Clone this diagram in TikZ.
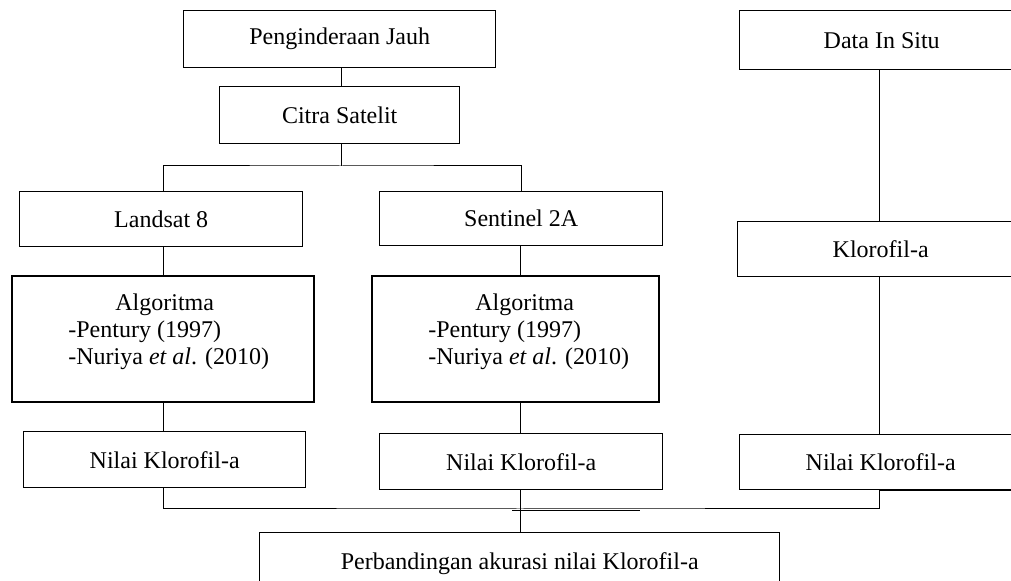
\documentclass[tikz,border=0pt]{standalone}
\usepackage{fontspec}
\setmainfont{Liberation Serif}
\begin{document}
\begin{tikzpicture}[x=0.5pt,y=-0.5pt,
  box/.style={draw, line width=0.7pt, inner sep=0pt, anchor=north west, font=\fontsize{12}{13.5}\selectfont},
  algbox/.style={draw, line width=1pt, inner sep=0pt, anchor=north west},
  algtext/.style={inner sep=0pt, anchor=north west, align=left, font=\fontsize{12}{13.5}\selectfont},
  conn/.style={line width=0.5pt}]
\clip (0,0) rectangle (1011,581);
% left column / top
\node[box, minimum width=156pt, minimum height=28.5pt] (pj) at (183,10) {Penginderaan Jauh};
\node[box, minimum width=120pt, minimum height=28.5pt] (cs) at (219,86) {Citra Satelit};
\node[box, minimum width=141.5pt, minimum height=27.5pt] (ls) at (19,191) {Landsat 8};
\node[box, minimum width=141.5pt, minimum height=27pt] (s2) at (379,191) {Sentinel 2A};
\node[algbox, minimum width=151pt, minimum height=63pt] (a1) at (11,275) {};
\node[algbox, minimum width=143.5pt, minimum height=63pt] (a2) at (371,275) {};
\node[algtext] (a1t) at (68,293) {\hspace*{23.5pt}Algoritma\\-Pentury (1997)\\-Nuriya \textit{et al}. (2010)};
\node[algtext] (a2t) at (428,293) {\hspace*{23.5pt}Algoritma\\-Pentury (1997)\\-Nuriya \textit{et al}. (2010)};
\node[box, minimum width=141pt, minimum height=28pt] (n1) at (23,431) {Nilai Klorofil-a};
\node[box, minimum width=141.5pt, minimum height=28pt] (n2) at (379,433) {Nilai Klorofil-a};
% right column
\node[box, minimum width=142pt, minimum height=29.5pt] (dis) at (739,10) {Data In Situ};
\node[box, minimum width=143pt, minimum height=27.5pt] (kl) at (737,221) {Klorofil-a};
\node[box, minimum width=141pt, minimum height=27.5pt] (n3) at (739,434) {Nilai Klorofil-a};
% bottom
\node[box, minimum width=260pt, minimum height=31pt] (pb) at (259,532) {Perbandingan akurasi nilai Klorofil-a};
% connectors
\coordinate (j1) at (341,166);
\coordinate (jb) at (520,509);
\draw[conn] (pj.south -| j1) -- (cs.north -| j1);
\draw[conn] (cs.south -| j1) -- (j1);
\draw[conn] (ls.north -| 163,0) |- (j1) -| (s2.north);
\draw[conn] (ls.south -| 163,0) -- (a1.north -| 163,0);
\draw[conn] (a1.south -| 163,0) -- (n1.north -| 163,0);
\draw[conn] (s2.south -| 520,0) -- (a2.north -| 520,0);
\draw[conn] (a2.south -| 520,0) -- (n2.north -| 520,0);
\draw[conn] (dis.south -| 879,0) -- (kl.north -| 879,0);
\draw[conn] (kl.south -| 879,0) -- (n3.north -| 879,0);
\draw[conn] (n1.south -| 163,0) |- (jb) -| (n3.south -| 879,0);
\draw[conn] (n2.south -| jb) -- (pb.north -| jb);
% doubled line fragments as printed
\draw[conn] (512,510.5) -- (640,510.5);
\draw[conn] (879,490.5) -- (1011,490.5);
\end{tikzpicture}
\end{document}
